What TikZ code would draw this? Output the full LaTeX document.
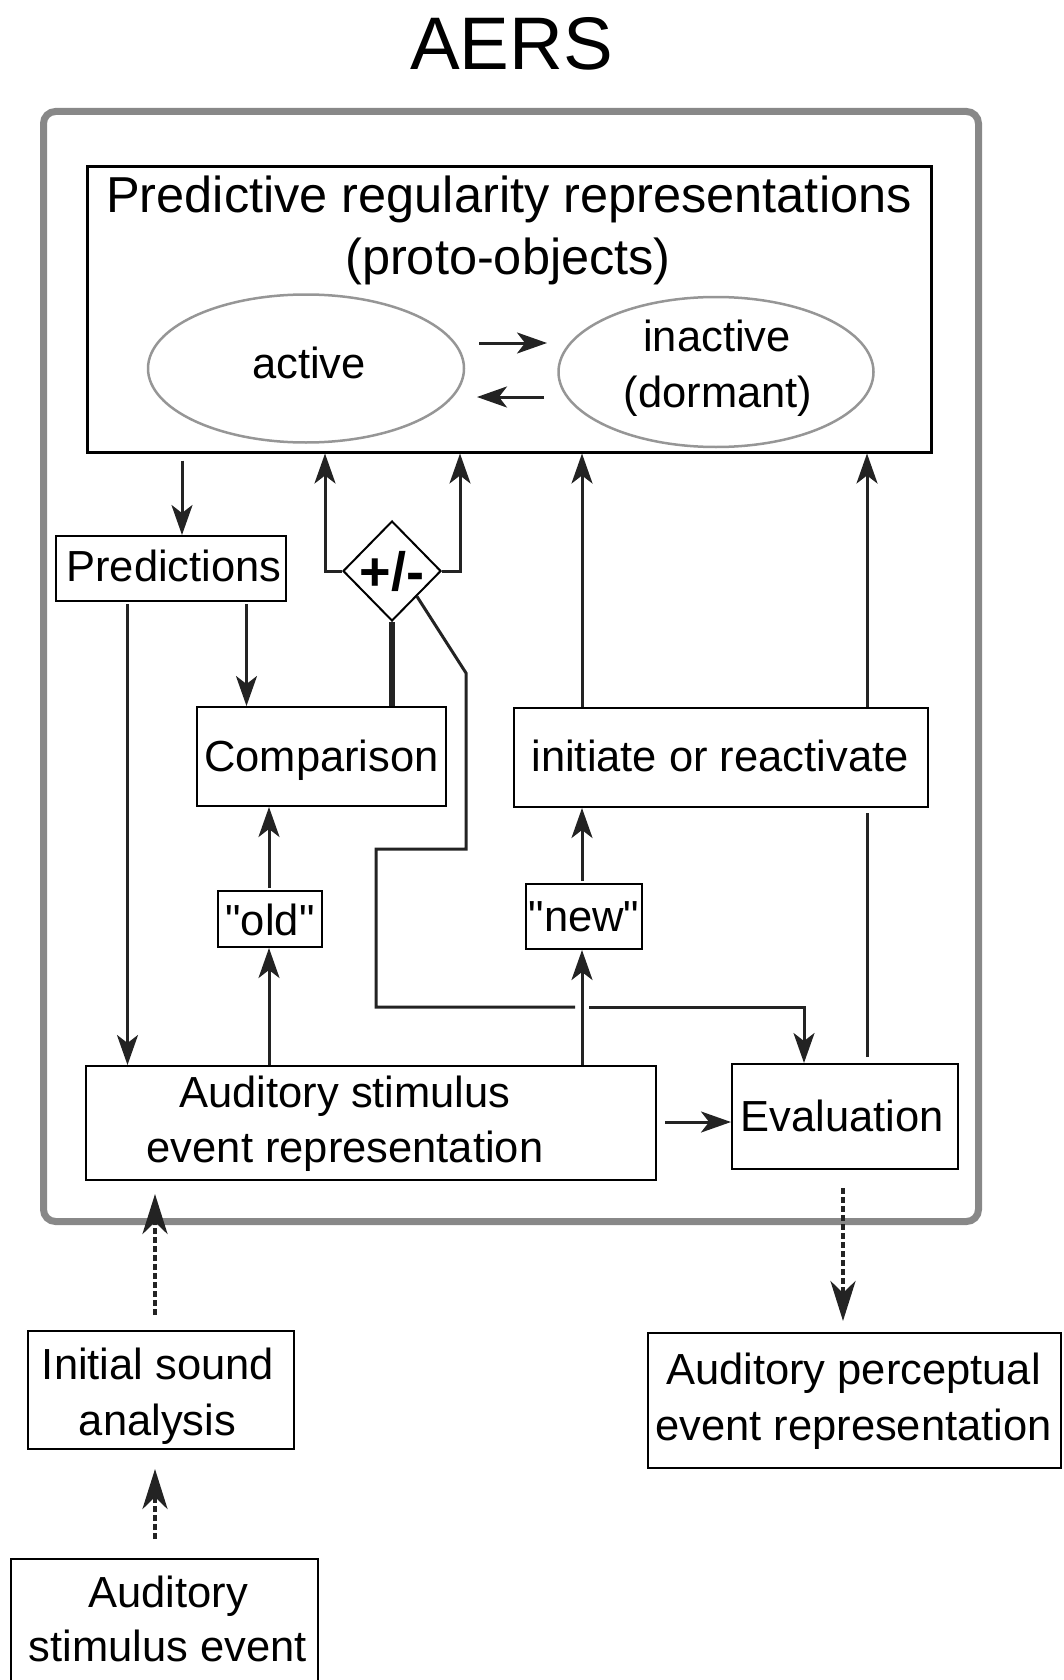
\documentclass[tikz,border=0pt]{standalone}
\usepackage{fontspec}
\setmainfont{Liberation Sans}[Ligatures=TeXOff]
\usetikzlibrary{arrows.meta,shapes.geometric,calc}
\definecolor{framegray}{RGB}{136,136,136}
\definecolor{ellgray}{RGB}{150,150,150}
\definecolor{lnc}{RGB}{35,35,35}
\begin{document}
\begin{tikzpicture}[x=1pt,y=-1pt,
  bx/.style={draw=black, line width=2pt, inner sep=0pt},
  arr/.style={draw=lnc, line width=3pt, -{Stealth[length=30pt,width=21pt,inset=8pt]}},
  ln/.style={draw=lnc, line width=3pt},
  darr/.style={draw=lnc, line width=4.5pt, dash pattern=on 6pt off 3pt, -{Stealth[length=40pt,width=25pt,inset=12pt]}},
  txt/.style={anchor=base, inner sep=0pt, font=\fontsize{43.5}{56}\selectfont},
  ttl/.style={anchor=base, inner sep=0pt, font=\fontsize{50.5}{62}\selectfont},
]
\useasboundingbox (0,0) rectangle (1063,1680);
\clip (0,0) rectangle (1063,1680);

% title
\node[anchor=base, inner sep=0pt, font=\fontsize{74.5}{80}\selectfont] (aers) at (511.5,70) {AERS};

% outer frame
\node[draw=framegray, line width=7pt, rounded corners=12pt, minimum width=935pt, minimum height=1110pt, inner sep=0pt] (frame) at (511,666.5) {};

% top box
\node[bx, line width=3pt, minimum width=844pt, minimum height=285pt] (top) at (509,309.5) {};
\node[ttl] (pr1) at (509,213) {Predictive regularity representations};
\node[ttl] (pr2) at (508,275) {(proto-objects)};

% ellipses
\node[ellipse, draw=ellgray, line width=2.5pt, minimum width=316pt, minimum height=148pt, inner sep=0pt] (act) at (306,368.5) {};
\node[txt] (acttxt) at (309,378) {active};
\node[ellipse, draw=ellgray, line width=2.5pt, minimum width=315pt, minimum height=150pt, inner sep=0pt] (inact) at (716,372) {};
\node[txt] (in1) at (717,351) {inactive};
\node[txt] (in2) at (718,407) {(dormant)};
\coordinate (ea1) at (479,343);
\coordinate (eb1) at (547,343);
\coordinate (ea2) at (544,397);
\coordinate (eb2) at (477,397);
\draw[arr] (ea1) -- (eb1);
\draw[arr] (ea2) -- (eb2);

% boxes
\node[bx, minimum width=230pt, minimum height=65pt] (pred) at (171,568.5) {};
\node[txt] (predtxt) at (174,581) {Predictions};

\node[diamond, draw=black, line width=2pt, minimum width=98pt, minimum height=100pt, inner sep=0pt] (pm) at (392,571) {};
\node[anchor=base, inner sep=0pt, font=\fontsize{54}{60}\selectfont\bfseries] (pmtxt) at (392,590) {+/-};

\node[bx, minimum width=249pt, minimum height=99pt] (comp) at (321.5,756.5) {};
\node[txt] (comptxt) at (321.5,771) {Comparison};

\node[bx, minimum width=414pt, minimum height=99pt] (init) at (721,757.5) {};
\node[txt] (inittxt) at (720,771) {initiate or reactivate};

\node[bx, minimum width=104pt, minimum height=56pt] (old) at (269.5,919) {};
\node[txt] (oldtxt) at (270,935) {"old"};

\node[bx, minimum width=116pt, minimum height=65pt] (new) at (584,916.5) {};
\node[txt] (newtxt) at (584,931) {"new"};

\node[bx, minimum width=570pt, minimum height=114pt] (asr) at (371,1123) {};
\node[txt] (asr1) at (345,1107) {Auditory stimulus};
\node[txt] (asr2) at (345,1162) {event representation};

\node[bx, minimum width=226pt, minimum height=105pt] (eval) at (845,1116.5) {};
\node[txt] (evaltxt) at (842,1131) {Evaluation};

\node[bx, minimum width=266pt, minimum height=118pt] (isa) at (161,1390) {};
\node[txt] (isa1) at (158,1379) {Initial sound};
\node[txt] (isa2) at (157.5,1435) {analysis};

\node[bx, minimum width=413pt, minimum height=135pt] (aper) at (854.5,1400.5) {};
\node[txt] (aper1) at (853.5,1384) {Auditory perceptual};
\node[txt] (aper2) at (853.5,1440) {event representation};

\node[bx, minimum width=307pt, minimum height=150pt] (ase) at (164.5,1634) {};
\node[txt] (ase1) at (168,1607) {Auditory};
\node[txt] (ase2) at (168,1661) {stimulus event};

% x positions of connectors
\coordinate (xa) at (182,0);
\coordinate (xb) at (246.5,0);
\coordinate (xc) at (127.5,0);
\coordinate (xd) at (269,0);
\coordinate (xe) at (582,0);
\coordinate (xf) at (867,0);
\coordinate (xg) at (155,0);
\coordinate (xh) at (843,0);
\coordinate (ya) at (0,1122);

% connectors
\draw[arr, shorten <=7pt] (top.south -| xa) -- (pred.north -| xa);
\draw[arr, shorten <=2pt] (pred.south -| xb) -- (comp.north -| xb);
\draw[arr, shorten <=2pt] (pred.south -| xc) -- (asr.north -| xc);

\draw[arr] (pm.west) -- (325,571) -- (top.south -| 325,0);
\draw[arr] (pm.east) -- (460,571) -- (top.south -| 460,0);
\draw[draw=lnc, line width=6pt] (pm.south) -- (comp.north -| pm.south);

\coordinate (k1) at (466,673);
\coordinate (k2) at (466,849);
\coordinate (k3) at (376,849);
\coordinate (k4) at (376,1007);
\coordinate (k5) at (575,1007);
\coordinate (k6) at (589,1007);
\coordinate (k7) at (804,1007);
\draw[ln, line join=miter] (pm.south east) -- (k1) -- (k2) -- (k3) -- (k4) -- (k5);
\draw[arr] (k6) -- (k7) -- (eval.north -| k7);

\draw[arr, shorten <=2pt] (old.north -| xd) -- (comp.south -| xd);
\draw[arr] (asr.north -| xd) -- (old.south -| xd);

\draw[arr] (asr.north -| xe) -- (new.south -| xe);
\draw[arr, shorten <=2pt] (new.north -| xe) -- (init.south -| xe);
\draw[arr] (init.north -| xe) -- (top.south -| xe);

\draw[ln, shorten <=6pt, shorten >=5pt] (eval.north -| xf) -- (init.south -| xf);
\draw[arr] (init.north -| xf) -- (top.south -| xf);

\draw[arr, shorten <=8pt] (asr.east |- ya) -- (eval.west |- ya);

% dashed
\draw[darr, shorten <=15pt, shorten >=13pt] (isa.north -| xg) -- (asr.south -| xg);
\draw[darr, shorten <=18pt, shorten >=11pt] (eval.south -| xh) -- (aper.north -| xh);
\draw[darr, shorten <=19pt, shorten >=19pt] (ase.north -| xg) -- (isa.south -| xg);
\end{tikzpicture}
\end{document}
